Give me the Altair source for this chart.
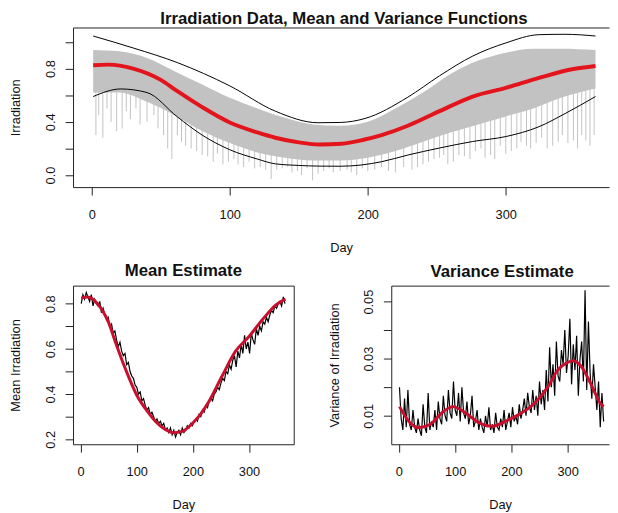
import altair as alt
import pandas as pd

FONT = "Liberation Sans"
GRAY = "#C2C2C2"
RED = "#E3141B"
DRED = "#C8102E"

# ---------------- top panel ----------------
env_days = [1, 20, 40, 60, 80, 100, 120, 140, 160, 180, 200, 220, 240, 260, 280, 300, 320, 340, 365]
gray_high = [0.94, 0.93, 0.88, 0.78, 0.68, 0.58, 0.50, 0.43, 0.38, 0.37, 0.40, 0.50, 0.62, 0.76, 0.86, 0.92, 0.95, 0.95, 0.94]
gray_low = [0.62, 0.62, 0.55, 0.45, 0.33, 0.24, 0.17, 0.13, 0.11, 0.11, 0.13, 0.18, 0.25, 0.32, 0.38, 0.44, 0.50, 0.58, 0.65]

spike_day = [3, 5, 8, 11, 14, 18, 22, 25, 28, 32, 35, 40, 45, 48, 52, 55, 58, 62, 65, 68, 72, 76, 80, 84,
             88, 91, 95, 99, 103, 106, 110, 114, 118, 122, 126, 130, 134, 138, 142, 145, 149, 152, 156, 160,
             164, 168, 172, 175, 180, 185, 188, 192, 196, 200, 205, 210, 215, 220, 226, 232, 236, 240, 244,
             248, 252, 255, 258, 262, 266, 270, 274, 278, 282, 285, 289, 292, 296, 300, 304, 308, 311, 315,
             318, 322, 326, 330, 334, 338, 341, 345, 349, 352, 355, 358, 361, 364]
spike_low = [0.30, 0.45, 0.28, 0.50, 0.40, 0.33, 0.35, 0.48, 0.42, 0.50, 0.38, 0.40, 0.45, 0.35, 0.30, 0.20,
             0.12, 0.30, 0.25, 0.22, 0.20, 0.18, 0.15, 0.14, 0.10, 0.16, 0.08, 0.10, 0.12, 0.08, 0.06, 0.10,
             0.05, 0.06, 0.04, -0.03, 0.04, 0.05, 0.06, 0.02, 0.03, 0.00, 0.05, -0.04, 0.01, 0.03, 0.05, 0.02,
             0.03, 0.04, 0.02, 0.00, 0.05, 0.03, 0.04, 0.06, 0.03, 0.02, 0.06, 0.04, 0.06, 0.08, 0.10, 0.12,
             0.13, 0.15, 0.08, 0.10, 0.15, 0.14, 0.12, 0.18, 0.20, 0.13, 0.15, 0.12, 0.22, 0.16, 0.18, 0.20,
             0.25, 0.22, 0.20, 0.24, 0.28, 0.20, 0.22, 0.25, 0.30, 0.24, 0.26, 0.20, 0.30, 0.26, 0.22, 0.30]
spike_top = [0.67, 0.67, 0.67, 0.67, 0.67, 0.67, 0.67, 0.66, 0.65, 0.64, 0.62, 0.60, 0.58, 0.56, 0.54, 0.52,
             0.51, 0.49, 0.47, 0.45, 0.43, 0.40, 0.38, 0.36, 0.34, 0.33, 0.31, 0.30, 0.28, 0.26, 0.25, 0.24,
             0.23, 0.22, 0.21, 0.20, 0.19, 0.18, 0.18, 0.17, 0.17, 0.17, 0.16, 0.16, 0.16, 0.16, 0.16, 0.16,
             0.16, 0.16, 0.17, 0.17, 0.18, 0.18, 0.19, 0.20, 0.21, 0.23, 0.25, 0.27, 0.28, 0.30, 0.31, 0.33,
             0.34, 0.35, 0.36, 0.37, 0.39, 0.40, 0.41, 0.43, 0.44, 0.45, 0.46, 0.47, 0.48, 0.49, 0.50, 0.52,
             0.53, 0.54, 0.55, 0.56, 0.58, 0.59, 0.60, 0.62, 0.63, 0.64, 0.65, 0.66, 0.67, 0.68, 0.69, 0.70]

upper_days = [1, 30, 62, 100, 133, 164, 180, 198, 229, 252, 276, 300, 324, 343, 365]
upper_vals = [1.045, 0.955, 0.845, 0.67, 0.48, 0.393, 0.395, 0.425, 0.585, 0.746, 0.894, 0.993, 1.055, 1.058, 1.045]

lower_days = [1, 21, 40, 62, 80, 100, 120, 133, 150, 164, 180, 195, 210, 229, 252, 276, 300, 324, 343, 365]
lower_vals = [0.59, 0.647, 0.62, 0.437, 0.30, 0.19, 0.12, 0.084, 0.072, 0.067, 0.066, 0.075, 0.10, 0.15,
              0.203, 0.252, 0.289, 0.363, 0.462, 0.59]

mean_days = [1, 12, 30, 50, 62, 80, 100, 120, 133, 150, 165, 181, 197, 210, 229, 252, 276, 300, 324, 348, 365]
mean_vals = [0.825, 0.83, 0.80, 0.715, 0.63, 0.51, 0.395, 0.32, 0.28, 0.245, 0.229, 0.235, 0.265, 0.30, 0.37,
             0.48, 0.59, 0.655, 0.73, 0.795, 0.82]

# ---------------- bottom panels (observed daily estimates, every 3rd day) ----------------
obs_days = list(range(1, 365, 3))
mean_obs = [0.80, 0.84, 0.82, 0.85, 0.83, 0.81, 0.84, 0.79, 0.82, 0.80,
            0.79, 0.81, 0.76, 0.78, 0.75, 0.73, 0.74, 0.70, 0.71, 0.67,
            0.68, 0.64, 0.61, 0.63, 0.59, 0.57, 0.58, 0.53, 0.54, 0.50,
            0.48, 0.47, 0.44, 0.43, 0.40, 0.41, 0.37, 0.38, 0.35, 0.33,
            0.34, 0.31, 0.32, 0.30, 0.28, 0.29, 0.27, 0.28, 0.26, 0.27,
            0.24, 0.25, 0.23, 0.25, 0.22, 0.24, 0.21, 0.23, 0.24, 0.22,
            0.25, 0.23, 0.24, 0.26, 0.25, 0.27, 0.26, 0.28, 0.29, 0.28,
            0.31, 0.30, 0.33, 0.32, 0.35, 0.34, 0.37, 0.38, 0.37, 0.40,
            0.41, 0.43, 0.42, 0.45, 0.47, 0.46, 0.50, 0.49, 0.53, 0.51,
            0.55, 0.57, 0.52, 0.59, 0.56, 0.62, 0.58, 0.66, 0.60, 0.63,
            0.58, 0.67, 0.64, 0.62, 0.69, 0.66, 0.70, 0.68, 0.72, 0.71,
            0.74, 0.72, 0.75, 0.77, 0.76, 0.79, 0.78, 0.80, 0.81, 0.79,
            0.83, 0.80]
var_obs_milli = [20, 9, 5, 16, 6, 19, 7, 5, 12, 6,
                 4, 9, 5, 3, 14, 6, 4, 18, 5, 8,
                 6, 12, 5, 15, 9, 7, 17, 10, 8, 19,
                 11, 9, 22, 12, 10, 18, 8, 20, 11, 9,
                 15, 7, 10, 17, 6, 8, 12, 5, 9, 6,
                 4, 10, 6, 13, 5, 7, 4, 11, 6, 5,
                 9, 6, 12, 5, 8, 11, 6, 13, 8, 10,
                 7, 14, 9, 12, 16, 10, 18, 13, 11, 19,
                 12, 17, 10, 22, 14, 19, 12, 26, 15, 34,
                 20, 28, 17, 36, 24, 22, 33, 28, 40, 25,
                 31, 44, 21, 35, 26, 38, 17, 30, 36, 22,
                 54, 19, 43, 25, 16, 28, 20, 12, 22, 6,
                 18, 8]

var_days = [1, 20, 35, 55, 79, 96, 119, 143, 166, 189, 212, 241, 265, 282, 300, 309, 323, 341, 358, 364]
var_vals = [0.0132, 0.0075, 0.0058, 0.0069, 0.0115, 0.0132, 0.0109, 0.0075, 0.0063, 0.008, 0.0103, 0.0144,
            0.0201, 0.0259, 0.0287, 0.0293, 0.0276, 0.0213, 0.0144, 0.0132]

env = pd.DataFrame({"day": env_days, "lo": gray_low, "hi": gray_high})
spikes = pd.DataFrame({"day": spike_day, "lo": spike_low, "hi": spike_top})
upper = pd.DataFrame({"day": upper_days, "v": upper_vals})
lower = pd.DataFrame({"day": lower_days, "v": lower_vals})
mean = pd.DataFrame({"day": mean_days, "v": mean_vals})
mobs = pd.DataFrame({"day": obs_days, "v": mean_obs})
vobs = pd.DataFrame({"day": obs_days, "v": [m / 1000 for m in var_obs_milli]})
vfun = pd.DataFrame({"day": var_days, "v": var_vals})


def xaxis():
    return alt.Axis(values=[0, 100, 200, 300], title="Day", tickSize=8, labelPadding=14,
                    titlePadding=20, labelFlush=False, labelOverlap=False, grid=False)


def yaxis(values, shown, fmt, title):
    expr = "indexof(%s, format(datum.value, '%s')) >= 0 ? format(datum.value, '%s') : ''" % (
        str(shown), fmt, fmt)
    return alt.Axis(values=values, labelExpr=expr, title=title, tickSize=8, labelAngle=-90,
                    labelAlign="center", labelBaseline="bottom", labelPadding=8, titlePadding=22,
                    labelFlush=False, labelOverlap=False, grid=False)


top_axis = alt.Axis(orient="top", ticks=False, labels=False, title=None, domain=True, grid=False)
right_axis = alt.Axis(orient="right", ticks=False, labels=False, title=None, domain=True, grid=False)

# ---- top ----
xs = alt.Scale(domain=[-13.6, 374.8], nice=False, zero=False)
ys = alt.Scale(domain=[-0.091, 1.109], nice=False, zero=False)

t_area = alt.Chart(env).mark_area(color=GRAY, opacity=1, interpolate="monotone").encode(
    x=alt.X("day:Q", scale=xs, axis=xaxis()),
    y=alt.Y("lo:Q", scale=ys, axis=yaxis([0, 0.2, 0.4, 0.6, 0.8, 1.0], ["0.0", "0.4", "0.8"], ".1f", "Irradiation")),
    y2="hi:Q",
)
t_spk = alt.Chart(spikes).mark_rule(color=GRAY, strokeWidth=1).encode(
    x=alt.X("day:Q", scale=xs, axis=None),
    y=alt.Y("lo:Q", scale=ys, axis=None),
    y2="hi:Q",
)
t_up = alt.Chart(upper).mark_line(color="black", strokeWidth=1, interpolate="monotone").encode(
    x=alt.X("day:Q", scale=xs, axis=None), y=alt.Y("v:Q", scale=ys, axis=None))
t_lo = alt.Chart(lower).mark_line(color="black", strokeWidth=1, interpolate="monotone").encode(
    x=alt.X("day:Q", scale=xs, axis=None), y=alt.Y("v:Q", scale=ys, axis=None))
t_mean = alt.Chart(mean).mark_line(color=RED, strokeWidth=4, interpolate="monotone").encode(
    x=alt.X("day:Q", scale=xs, axis=top_axis), y=alt.Y("v:Q", scale=ys, axis=None))

top = alt.layer(t_area, t_spk, t_up, t_lo, t_mean).resolve_axis(x="independent", y="independent").properties(
    width=544, height=162,
    title=alt.TitleParams("Irradiation Data, Mean and Variance Functions", fontSize=17, fontWeight="bold",
                          offset=0, anchor="middle", dx=3))

# ---- bottom left ----
xbl = alt.Scale(domain=[-13.6, 379.6], nice=False, zero=False)
ybl = alt.Scale(domain=[0.178, 0.88], nice=False, zero=False)
bl_obs = alt.Chart(mobs).mark_line(color="black", strokeWidth=1.2).encode(
    x=alt.X("day:Q", scale=xbl, axis=xaxis()),
    y=alt.Y("v:Q", scale=ybl, axis=yaxis([0.2, 0.3, 0.4, 0.5, 0.6, 0.7, 0.8], ["0.2", "0.4", "0.6", "0.8"], ".1f",
                                         "Mean Irradiation")))
bl_fun = alt.Chart(mean).mark_line(color=DRED, strokeWidth=3, interpolate="monotone").encode(
    x=alt.X("day:Q", scale=xbl, axis=top_axis), y=alt.Y("v:Q", scale=ybl, axis=right_axis))
bl = alt.layer(bl_obs, bl_fun).resolve_axis(x="independent", y="independent").properties(
    width=224, height=161,
    title=alt.TitleParams("Mean Estimate", fontSize=17, fontWeight="bold", offset=6, anchor="middle"))

# ---- bottom right ----
xbr = alt.Scale(domain=[-13.6, 373.6], nice=False, zero=False)
ybr = alt.Scale(domain=[0.0, 0.0556], nice=False, zero=False)
br_obs = alt.Chart(vobs).mark_line(color="black", strokeWidth=1.2).encode(
    x=alt.X("day:Q", scale=xbr, axis=xaxis()),
    y=alt.Y("v:Q", scale=ybr, axis=yaxis([0.01, 0.02, 0.03, 0.04, 0.05], ["0.01", "0.03", "0.05"], ".2f",
                                         "Variance of Irradiation")))
br_fun = alt.Chart(vfun).mark_line(color=DRED, strokeWidth=3, interpolate="monotone").encode(
    x=alt.X("day:Q", scale=xbr, axis=top_axis), y=alt.Y("v:Q", scale=ybr, axis=None))
br = alt.layer(br_obs, br_fun).resolve_axis(x="independent", y="independent").properties(
    width=221, height=161,
    title=alt.TitleParams("Variance Estimate", fontSize=17, fontWeight="bold", offset=5, anchor="middle", dx=2))

bottom = alt.hconcat(bl, br, spacing=99, bounds="flush")
chart = alt.vconcat(top, bottom, spacing=100, bounds="flush").properties(
    padding={"left": 1, "top": -2, "right": 0, "bottom": 0}, background="white").configure_view(
    stroke=None).configure_axis(
    labelFont=FONT, titleFont=FONT, labelFontSize=13, titleFontSize=13, labelColor="#111", titleColor="#111",
    titleFontWeight="normal", tickColor="#222", domainColor="#222", domainWidth=1, tickWidth=1).configure_title(
    font=FONT, color="#111")

chart.save("out.html", embed_options={"renderer": "svg", "actions": False})
